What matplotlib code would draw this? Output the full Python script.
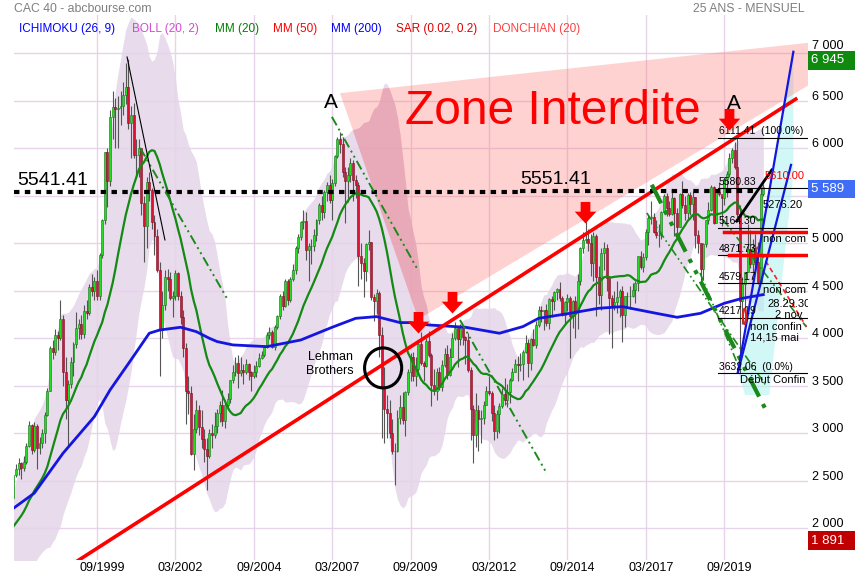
import numpy as np
import pandas as pd
import matplotlib
matplotlib.use("Agg")
import matplotlib.pyplot as plt
from matplotlib.path import Path
from matplotlib.patches import Polygon, Ellipse
from matplotlib import font_manager
import matplotlib.transforms as mtransforms

# ---------------- DATA ----------------
# monthly closes used only to warm up the moving average (1995-1996)
warmup_close = [1870, 1820, 1800, 1870, 1930, 1860, 1920, 1900, 1800, 1790, 1850, 1872,
                1990, 1990, 2030, 2100, 2100, 2070, 1930, 1950, 2050, 2090, 2200, 2316]

first_month = "1997-01"
# monthly CAC 40 candles 1997-01 .. 2020-12
close = [
    2560, 2620, 2690, 2630, 2700, 2870, 3090, 2820, 3080, 2840, 2900, 2999,   # 1997
    3190, 3450, 3900, 3860, 4030, 4000, 4200, 3640, 3350, 3520, 3750, 3943,   # 1998
    4110, 4150, 4050, 4290, 4270, 4540, 4500, 4600, 4450, 4880, 5240, 5958,   # 1999
    5660, 6330, 6430, 6410, 6420, 6440, 6560, 6650, 6270, 6350, 5930, 5926,   # 2000
    5998, 5420, 5180, 5640, 5560, 5220, 5080, 4720, 4090, 4350, 4650, 4625,   # 2001
    4420, 4440, 4690, 4440, 4220, 3900, 3440, 3420, 2780, 3040, 3240, 3064,   # 2002
    2940, 2830, 2760, 3000, 2980, 3080, 3210, 3300, 3130, 3300, 3360, 3558,   # 2003
    3640, 3740, 3630, 3670, 3640, 3730, 3640, 3600, 3640, 3710, 3790, 3821,   # 2004
    3910, 4030, 4070, 3910, 4120, 4230, 4450, 4340, 4600, 4400, 4620, 4715,   # 2005
    4950, 5070, 5220, 5230, 4930, 4970, 4970, 5090, 5250, 5400, 5330, 5542,   # 2006
    5610, 5460, 5630, 5920, 6100, 6050, 5750, 5660, 5720, 5850, 5670, 5614,   # 2007
    4870, 4790, 4710, 4990, 5010, 4430, 4390, 4480, 4030, 3490, 3260, 3218,   # 2008
    3000, 2810, 2810, 3160, 3280, 3140, 3430, 3650, 3800, 3600, 3680, 3936,   # 2009
    3740, 3710, 3970, 3820, 3510, 3440, 3640, 3490, 3720, 3830, 3610, 3805,   # 2010
    4000, 4110, 3990, 4110, 4010, 3980, 3670, 3260, 2980, 3240, 3150, 3160,   # 2011
    3300, 3450, 3420, 3210, 3020, 3200, 3290, 3410, 3350, 3430, 3560, 3641,   # 2012
    3730, 3720, 3730, 3860, 3950, 3740, 3990, 3930, 4140, 4300, 4290, 4296,   # 2013
    4165, 4410, 4390, 4490, 4520, 4420, 4250, 4380, 4420, 4230, 4390, 4273,   # 2014
    4600, 4950, 5030, 5050, 5000, 4790, 5080, 4650, 4460, 4900, 4950, 4637,   # 2015
    4420, 4350, 4385, 4430, 4500, 4240, 4440, 4440, 4450, 4510, 4580, 4862,   # 2016
    4750, 4860, 5120, 5270, 5280, 5120, 5090, 5090, 5330, 5500, 5370, 5313,   # 2017
    5480, 5320, 5170, 5520, 5400, 5320, 5510, 5410, 5490, 5090, 5000, 4730,   # 2018
    4990, 5240, 5350, 5590, 5210, 5540, 5520, 5480, 5680, 5730, 5900, 5978,   # 2019
    5806, 5310, 4396, 4572, 4695, 4936, 4784, 4947, 4804, 4594, 5518, 5589,   # 2020
]
high = [
    2580, 2680, 2740, 2700, 2760, 2900, 3130, 3100, 3120, 3100, 2960, 3050,
    3220, 3480, 3920, 3980, 4100, 4080, 4400, 4250, 3800, 3560, 3800, 3960,
    4280, 4200, 4250, 4350, 4400, 4570, 4680, 4650, 4720, 4900, 5260, 5960,
    6000, 6400, 6600, 6530, 6550, 6600, 6700, 6900, 6945, 6450, 6480, 6100,
    6100, 6000, 5500, 5700, 5750, 5580, 5300, 5150, 4800, 4500, 4720, 4730,
    4700, 4500, 4720, 4700, 4500, 4300, 3950, 3600, 3500, 3200, 3350, 3300,
    3250, 3050, 2950, 3050, 3100, 3220, 3260, 3340, 3460, 3340, 3420, 3560,
    3720, 3800, 3820, 3800, 3730, 3780, 3740, 3660, 3720, 3760, 3840, 3870,
    3930, 4070, 4120, 4090, 4140, 4250, 4470, 4500, 4620, 4620, 4650, 4780,
    4970, 5100, 5230, 5350, 5330, 5000, 5050, 5150, 5260, 5420, 5500, 5560,
    5650, 5720, 5680, 5930, 6120, 6170, 6120, 5800, 5800, 5900, 5880, 5720,
    5650, 5000, 4850, 5000, 5140, 5010, 4470, 4520, 4500, 4120, 3700, 3400,
    3350, 3150, 2900, 3250, 3400, 3430, 3450, 3680, 3840, 3860, 3800, 3950,
    4070, 3760, 4000, 4080, 3850, 3680, 3690, 3700, 3770, 3900, 3930, 3900,
    4060, 4170, 4110, 4150, 4080, 4020, 4060, 3700, 3300, 3420, 3300, 3250,
    3340, 3500, 3600, 3450, 3300, 3250, 3320, 3480, 3580, 3520, 3580, 3690,
    3780, 3810, 3850, 3880, 4030, 3990, 4000, 4100, 4180, 4340, 4340, 4300,
    4360, 4420, 4450, 4500, 4530, 4590, 4440, 4390, 4470, 4440, 4400, 4440,
    4680, 4960, 5120, 5280, 5150, 5100, 5120, 5100, 4760, 4950, 5010, 4990,
    4620, 4460, 4500, 4600, 4520, 4550, 4450, 4490, 4550, 4580, 4600, 4870,
    4920, 4900, 5150, 5300, 5440, 5320, 5240, 5200, 5340, 5520, 5530, 5440,
    5560, 5490, 5370, 5530, 5660, 5500, 5530, 5540, 5550, 5490, 5140, 5000,
    5000, 5250, 5430, 5610, 5600, 5560, 5650, 5500, 5690, 5760, 5950, 6000,
    6070, 6111, 5400, 4650, 4700, 5200, 5140, 5050, 5100, 5010, 5580, 5620,
]
low = [
    2300, 2540, 2560, 2520, 2600, 2680, 2860, 2780, 2800, 2620, 2780, 2850,
    2900, 3180, 3440, 3780, 3820, 3880, 3980, 3500, 3150, 2880, 3480, 3600,
    3900, 3990, 3990, 4000, 4200, 4250, 4450, 4400, 4400, 4400, 4850, 5200,
    5380, 5600, 6100, 6000, 6000, 6250, 6350, 6470, 6200, 5900, 5900, 5700,
    5700, 5300, 4800, 4950, 5450, 5150, 4880, 4700, 3600, 4000, 4300, 4500,
    4400, 4220, 4400, 4400, 4150, 3800, 3100, 3200, 2770, 2610, 3000, 2980,
    2850, 2700, 2400, 2740, 2850, 2950, 3000, 3120, 3080, 3060, 3250, 3320,
    3530, 3600, 3480, 3600, 3520, 3620, 3560, 3450, 3580, 3590, 3700, 3780,
    3800, 3900, 3990, 3900, 3880, 4100, 4200, 4300, 4330, 4350, 4380, 4600,
    4680, 4900, 5030, 5150, 4820, 4600, 4780, 4920, 5020, 5200, 5250, 5270,
    5450, 5420, 5250, 5600, 5900, 5950, 5700, 5210, 5430, 5640, 5450, 5480,
    4550, 4620, 4430, 4600, 4930, 4400, 4180, 4260, 3800, 2950, 2900, 2950,
    2950, 2780, 2460, 2800, 3100, 3100, 2970, 3400, 3550, 3550, 3500, 3650,
    3720, 3550, 3700, 3800, 3290, 3400, 3350, 3460, 3450, 3700, 3570, 3600,
    3800, 3980, 3700, 3930, 3930, 3730, 3650, 2930, 2690, 2860, 2810, 2900,
    3100, 3300, 3400, 3130, 2930, 2950, 3000, 3270, 3300, 3280, 3320, 3550,
    3650, 3550, 3660, 3560, 3840, 3590, 3670, 3920, 3900, 4120, 4170, 4090,
    4130, 4100, 4220, 4300, 4400, 4390, 4230, 4140, 4290, 3790, 4110, 4000,
    4100, 4560, 4900, 5000, 4920, 4660, 4600, 4230, 4360, 4300, 4720, 4500,
    4050, 3900, 4300, 4270, 4220, 3960, 4120, 4330, 4310, 4430, 4370, 4500,
    4730, 4700, 4820, 4980, 5200, 5110, 5060, 4960, 5050, 5320, 5290, 5290,
    5300, 5080, 5100, 5170, 5370, 5250, 5250, 5300, 5250, 4950, 4900, 4560,
    4610, 4960, 5200, 5340, 5200, 5230, 5500, 5180, 5400, 5490, 5700, 5840,
    5780, 5280, 3632, 4150, 4270, 4700, 4740, 4690, 4750, 4570, 4600, 5500,
]

# MM(200) line as displayed (month offset from 1997-01, value)
mm200_month = [0, 8, 19, 31, 37, 45, 52, 56, 64, 70, 75, 78, 84, 97, 110, 122, 131, 139,
               148, 152, 159, 173, 186, 195, 201, 213, 224, 233, 246, 254, 263, 272, 279, 287]
mm200_value = [2210, 2370, 2790, 3175, 3456, 3772, 4053, 4087, 4116, 4070, 4000, 3965, 3930,
               3912, 3982, 4116, 4210, 4228, 4165, 4165, 4140, 4116, 4053, 4123, 4210, 4263,
               4316, 4333, 4263, 4221, 4263, 4368, 4421, 4460]

ytick_values = [2000, 2500, 3000, 3500, 4000, 4500, 5000, 6000, 6500, 7000]
xtick_labels = ["09/1999", "03/2002", "09/2004", "03/2007", "09/2009",
                "03/2012", "09/2014", "03/2017", "09/2019"]

fib_high = 6111.41
fib_low = 3632.06
fib_ratios = [0.0, 0.236, 0.382, 0.5, 0.618, 0.786, 1.0]

resist_1 = 5541.41
resist_2 = 5551.41
scale_max_label = 6945
last_label = 5589
scale_min_label = 1891


# ---------------- helpers ----------------
def midx(s):
    y, m = map(int, s.split("-"))
    y0, m0 = map(int, first_month.split("-"))
    return (y - y0) * 12 + (m - m0)


names = {f.name for f in font_manager.fontManager.ttflist}
FONT = "Liberation Sans" if "Liberation Sans" in names else "DejaVu Sans"
NARROW = "Liberation Sans Narrow" if "Liberation Sans Narrow" in names else FONT
plt.rcParams["font.family"] = [FONT, "DejaVu Sans"]

n = len(close)
idx = np.arange(n)
all_close = pd.Series(warmup_close + close, dtype=float)
ma20_all = all_close.rolling(20).mean()
sd20_all = all_close.rolling(20).std(ddof=0)
off = len(warmup_close)
ma20 = ma20_all.values[off:]
bb_up = (ma20_all + 2 * sd20_all).values[off:]
bb_lo = (ma20_all - 2 * sd20_all).values[off:]
opens = np.array([warmup_close[-1]] + close[:-1], dtype=float)
c = np.array(close, float)
h = np.array(high, float)
l = np.array(low, float)

# ---------------- figure ----------------
W, H = 855, 580
fig = plt.figure(figsize=(W / 100, H / 100), dpi=100)
ax_l, ax_r, ax_t, ax_b = 14, 808, 15, 560
ax = fig.add_axes([ax_l / W, 1 - ax_b / H, (ax_r - ax_l) / W, (ax_b - ax_t) / H])
XMAX = 304.1
ax.set_xlim(0.236, XMAX)
ax.set_ylim(1666, 7403)
for s in ax.spines.values():
    s.set_visible(False)
ax.set_xticks([])
ax.set_yticks([])

# grid
grid_c = "#e6d4ea"
xt = [midx("1999-09") + 30 * k for k in range(len(xtick_labels))]
for v in ytick_values + [5500]:
    ax.axhline(v, color=grid_c, lw=1, zorder=1.5)
for x in xt:
    ax.axvline(x, color=grid_c, lw=1, zorder=1.5)

# Bollinger band
ax.fill_between(idx, bb_lo, bb_up, color="#b98fc4", alpha=0.32, lw=0, zorder=1)

# Cyan projection area
cyan = Polygon([(277.3, 3645), (298.5, 7016), (298.5, 5719), (289.3, 3403), (280.0, 3403)],
               closed=True, facecolor="#b5f2f2", alpha=0.6, lw=0, zorder=1.8)
ax.add_patch(cyan)

# Forbidden zone
zone_pts = [(midx("2007-06"), 6580), (XMAX, 7110), (XMAX, 6660), (midx("2009-12"), 4200)]
zone = Polygon(zone_pts, closed=True, facecolor="#ff6b6b", alpha=0.3, lw=0, zorder=2)
ax.add_patch(zone)
# slightly darker tint where the zone overlaps the Bollinger band
clip_zone = Polygon(zone_pts, closed=True, transform=ax.transData, visible=False)
ax.add_patch(clip_zone)
ov = ax.fill_between(idx, bb_lo, bb_up, color="#d0607e", alpha=0.17, lw=0, zorder=2.1)
ov.set_clip_path(clip_zone)

# candles
up = c >= opens
ax.vlines(idx, l, h, color="#555555", lw=0.8, zorder=3)
ax.bar(idx[up], (c - opens)[up], bottom=opens[up], width=0.75, color="#22dd22",
       edgecolor="#117711", lw=0.4, zorder=3.5)
ax.bar(idx[~up], (c - opens)[~up], bottom=opens[~up], width=0.75, color="#dd1133",
       edgecolor="#771122", lw=0.4, zorder=3.5)

# moving averages
ax.plot(idx, ma20, color="#138a13", lw=1.6, zorder=4)
ax.plot(mm200_month, mm200_value, color="#1515e0", lw=2, zorder=4)

# main support/resistance trend line
ax.plot([midx("1999-01"), midx("2022-01")], [1647, 6528], color="#ff0000", lw=2.6,
        zorder=5, solid_capstyle="butt")

# dotted horizontal levels
ax.plot([0.236, 194], [resist_1, resist_1], color="black", lw=3, ls=(0, (1.3, 1.3)), zorder=5)
ax.plot([194, 285], [resist_2, resist_2], color="black", lw=3, ls=(0, (1.3, 1.3)), zorder=5)
ax.text(1.6, resist_1 + 25, f"{resist_1:.2f}", fontsize=14, va="bottom", ha="left", zorder=6)
ax.text(194, resist_2 + 30, f"{resist_2:.2f}", fontsize=14, va="bottom", ha="left", zorder=6)

# dash-dot green trend lines
dd = (0, (5, 2, 1, 2, 1, 2))
for (x0, y0, x1, y1, lw) in [(48.5, 6004, 82.1, 4403, 1.4), (121.9, 6331, 154.8, 4719, 1.4),
                             (170.9, 4193, 204.1, 2579, 1.4), (244.3, 5616, 287.6, 3266, 3),
                             (242.4, 5319, 288.3, 3491, 1.2), (262.8, 4687, 278.1, 3666, 1.2),
                             (271.7, 5245, 303.5, 4119, 1.2)]:
    ax.plot([x0, x1], [y0, y1], color="#1a8a1a", lw=lw, ls=dd, zorder=5)
ax.plot([284.5, 303.5], [4964, 4122], color="#ff2020", lw=1.2, ls=(0, (3, 2)), zorder=5)
# thin black line from 2000 top
ax.plot([43.5, 58.0], [6961, 5035], color="black", lw=0.8, zorder=5)
# black thick line on 2020 rebound
ax.plot([276.8, 290.2], [5233, 5771], color="black", lw=2, zorder=5)

# blue projection lines
ax.plot([277.3, 298.5], [3645, 7016], color="#1515e0", lw=1.6, zorder=5)
ax.plot([277.3, 297.6], [3645, 5825], color="#1515e0", lw=1.6, zorder=5)

# Fibonacci retracement
fx0 = 269.7
for r in fib_ratios:
    lv = fib_low + (fib_high - fib_low) * r
    ax.plot([fx0, XMAX], [lv, lv], color="black", lw=0.8, zorder=5)
    lab = f"{lv:.2f}  ({r*100:.1f}%)" if r in (0.0, 1.0) else f"{lv:.2f}"
    ax.text(fx0 + 0.3, lv + 15, lab, fontsize=7.5, va="bottom", ha="left", zorder=6,
            clip_on=True)

# red horizontal lines near the end
ax.plot([272, XMAX], [5122, 5122], color="#ff0000", lw=2.5, zorder=5)
ax.plot([274, XMAX], [4877, 4877], color="#ff0000", lw=2.5, zorder=5)
ax.add_patch(Ellipse((279.8, 4230), 1.2, 160, fill=False, ec="#dd2222", lw=1.5, zorder=6))
ax.text(287.5, 5709, "5610.00", color="#ff0000", fontsize=8, va="center", zorder=6,
        clip_on=True)
for (xx, yy, tt) in [(278.1, 3560, "Début Confin"), (281.9, 4010, "14,15 mai"),
                     (281.9, 4115, "non confin"), (291.5, 4250, "2 nov"),
                     (288.4, 4365, "28.29.30"), (286.9, 5403, "5276.20"),
                     (286.9, 5042, "non com"), (286.9, 4510, "non com")]:
    ax.text(xx, yy, tt, fontsize=8, va="center", zorder=6, clip_on=True)

# Labels on chart
ax.text(121.7, 6482, "A", fontsize=15, ha="center", va="center", zorder=6)
ax.text(275.6, 6472, "A", fontsize=15, ha="center", va="center", zorder=6)
ax.text(149.9, 6382, "Zone Interdite", fontsize=34.5, color="#ff0000", ha="left",
        va="center", zorder=6)
ax.text(121.2, 3730, "Lehman\nBrothers", fontsize=9, ha="center", va="center",
        linespacing=1.25, zorder=6)
ax.add_patch(Ellipse((141.5, 3688), 14.2, 421, fill=False, ec="black", lw=2.2, zorder=6))

# red down arrows
arrow = Path([(0, 0), (-1, 1.1), (-0.45, 1.1), (-0.45, 2), (0.45, 2), (0.45, 1.1), (1, 1.1), (0, 0)],
             [Path.MOVETO] + [Path.LINETO] * 6 + [Path.CLOSEPOLY])
for (xx, yy) in [(154.8, 4056), (167.9, 4266), (218.8, 5214), (273.9, 6193)]:
    ax.plot([xx], [yy], marker=arrow, ms=31, color="#ff0000", mec="none", zorder=7)

# right axis labels
for v in ytick_values:
    lab = f"{v:,}".replace(",", " ")
    dy = 7 if v == 7000 else 4
    tr = mtransforms.offset_copy(ax.get_yaxis_transform(), fig=fig, x=4, y=dy, units="dots")
    ax.text(1.0, v, lab, transform=tr, fontsize=9, ha="left", va="center", clip_on=False)


def value_box(v, txt, col):
    tr = mtransforms.offset_copy(ax.get_yaxis_transform(), fig=fig, x=3, y=0, units="dots")
    ax.text(1.0, v, txt, transform=tr, fontsize=9.5, color="white", ha="left", va="center",
            clip_on=False, zorder=8,
            bbox=dict(boxstyle="square,pad=0.25", fc=col, ec="none"))


value_box(6925, f"{scale_max_label:,}".replace(",", " ") + "  ", "#0f8a0f")
value_box(5572, f"{last_label:,}".replace(",", " ") + "  ", "#3f6df5")
value_box(1870, f"{scale_min_label:,}".replace(",", " ") + "  ", "#c00000")

# bottom date labels
for x, lab in zip(xt, xtick_labels):
    tr = mtransforms.offset_copy(ax.get_xaxis_transform(), fig=fig, x=5, y=-8, units="dots")
    ax.text(x, 0, lab, transform=tr, fontsize=9, family=NARROW, ha="center", va="center",
            clip_on=False)

# header
fig.text(14 / W, 1 - 8.5 / H, "CAC 40 - abcbourse.com", fontsize=8.8, color="#7f7f7f",
         ha="left", va="center")
fig.text(805 / W, 1 - 8.5 / H, "25 ANS - MENSUEL", fontsize=8.8, color="#7f7f7f",
         ha="right", va="center")
legend_items = [("ICHIMOKU (26, 9)", "#0000ff", 19), ("BOLL (20, 2)", "#d548d5", 131.5),
                ("MM (20)", "#008000", 215), ("MM (50)", "#ff0000", 272.5),
                ("MM (200)", "#0000ff", 330.5), ("SAR (0.02, 0.2)", "#dd0000", 395.5),
                ("DONCHIAN (20)", "#ff4040", 493)]
for txt, col, xp in legend_items:
    fig.text(xp / W, 1 - 29 / H, txt, fontsize=8.5, color=col, ha="left", va="center")

fig.savefig("out.png", dpi=100)
